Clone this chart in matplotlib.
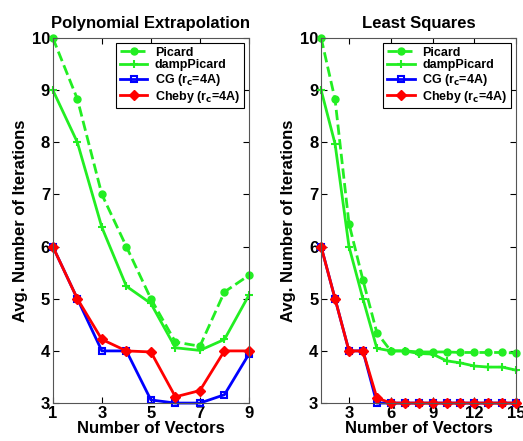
import numpy as np
import matplotlib.pyplot as plt

plt.rcParams['font.family'] = ['Liberation Sans', 'DejaVu Sans']
plt.rcParams['font.weight'] = 'bold'

#%% Data
# Polynomial extrapolation
x_poly          = [1, 2, 3, 4, 5, 6, 7, 8, 9]
picard_poly     = [10, 8.83, 7.0, 6.0, 5.0, 4.17, 4.09, 5.13, 5.45]
damp_poly       = [9, 8.0, 6.37, 5.24, 4.91, 4.06, 4.01, 4.22, 5.07]
cg_poly         = [6, 5, 4.0, 4.0, 3.06, 3.0, 3.0, 3.16, 3.94]
cheby_poly      = [6, 5, 4.22, 4.0, 3.98, 3.12, 3.24, 4.0, 4.0]

# Least squares
x_ls            = list(range(1, 16))
picard_ls       = [10, 8.82, 6.44, 5.36, 4.35, 4.0, 4.0, 3.98, 3.98, 3.98, 3.97, 3.97, 3.97, 3.97, 3.96]
damp_ls         = [9, 7.97, 6.0, 5.0, 4.05, 4.0, 4.0, 3.95, 3.94, 3.81, 3.77, 3.71, 3.69, 3.69, 3.63]
cg_ls           = [6, 5, 4, 4, 3.0, 3, 3, 3, 3, 3, 3, 3, 3, 3, 3]
cheby_ls        = [6, 5, 4, 4, 3.1, 3, 3, 3, 3, 3, 3, 3, 3, 3, 3]

labels          = ['Picard', 'dampPicard', r'CG (r$_\mathbf{c}$=4A)', r'Cheby (r$_\mathbf{c}$=4A)']

#%% Figure
fig = plt.figure(figsize=(5.23, 4.41), dpi=100)
ax1 = fig.add_axes([0.101, 0.086, 0.375, 0.828])
ax2 = fig.add_axes([0.614, 0.086, 0.373, 0.828])

green, blue, red = '#22ee22', '#0000ff', '#ff0000'


def draw(ax, x, pic, damp, cg, cheby, title, xticks, xlim):
    ax.plot(x, pic, '--o', color=green, lw=2, ms=5, label=labels[0])
    ax.plot(x, damp, '-+', color=green, lw=2, ms=6, mew=1.5, label=labels[1])
    ax.plot(x, cg, '-s', color=blue, lw=2, ms=5, mfc='none', mew=1.5, label=labels[2])
    ax.plot(x, cheby, '-D', color=red, lw=2, ms=5, label=labels[3])
    ax.set_xlim(xlim)
    ax.set_ylim([3, 10])
    ax.set_xticks(xticks)
    ax.set_yticks(range(3, 11))
    ax.tick_params(direction='in', top=True, right=True, labelsize=12, length=4, pad=2)
    for lab in ax.get_xticklabels() + ax.get_yticklabels():
        lab.set_fontweight('bold')
    for s in ax.spines.values():
        s.set_color('#555555')
    ax.set_title(title, fontsize=12, fontweight='bold', pad=7)
    ax.set_xlabel('Number of Vectors', fontsize=12, fontweight='bold', labelpad=0)
    ax.set_ylabel('Avg. Number of Iterations', fontsize=12, fontweight='bold', labelpad=3)
    leg = ax.legend(loc='upper right', prop={'weight': 'bold', 'size': 9},
                    fancybox=False, edgecolor='black', framealpha=1, handlelength=2.2,
                    labelspacing=0.05, borderpad=0.3, handletextpad=0.6, borderaxespad=0.4)
    leg.get_frame().set_linewidth(0.8)


draw(ax1, x_poly, picard_poly, damp_poly, cg_poly, cheby_poly,
     'Polynomial Extrapolation', [1, 3, 5, 7, 9], [1, 9])
draw(ax2, x_ls, picard_ls, damp_ls, cg_ls, cheby_ls,
     'Least Squares', [3, 6, 9, 12, 15], [1, 15])

for ax in (ax1, ax2):
    for line in ax.get_lines():
        line.set_clip_on(False)

fig.savefig('out.png', dpi=100)
